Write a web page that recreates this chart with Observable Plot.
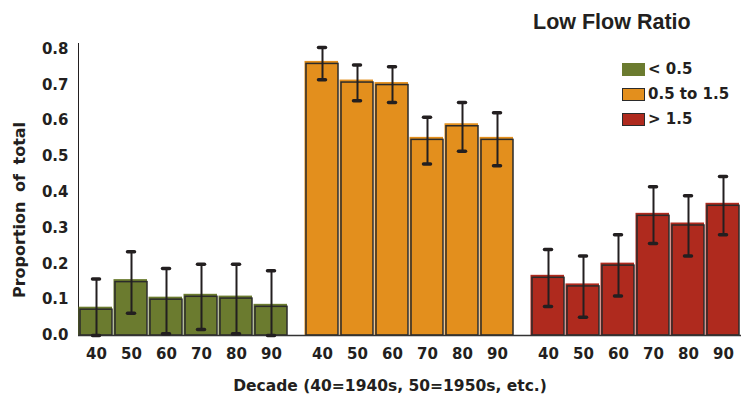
<!DOCTYPE html>
<html>
<head>
<meta charset="utf-8">
<script src="https://cdn.jsdelivr.net/npm/d3@7"></script>
<script src="https://cdn.jsdelivr.net/npm/@observablehq/plot@0.6"></script>
<style>
  html, body { margin: 0; padding: 0; background: #fff; overflow: hidden; }
  #wrap { position: relative; width: 741px; height: 394px; overflow: hidden; color: #231f20; }
  #wrap svg { position: absolute; left: 0; top: 0; max-width: none !important; }
  #wrap svg text { font-size: 15px; font-family: "DejaVu Sans", sans-serif; font-weight: bold; }
  .lbl { position: absolute; font-family: "DejaVu Sans", sans-serif; font-weight: bold; line-height: 1; white-space: nowrap; }
  #ltitle { position: absolute; left: 533px; top: 12px; font-family: "Liberation Sans", Arial, sans-serif; font-weight: bold; font-size: 21.5px; line-height: 1; white-space: nowrap; }
  #legend { position: absolute; left: 622px; top: 63px; }
  .row { display: flex; align-items: center; height: 13px; margin-bottom: 12px; }
  .sw { width: 23px; height: 13px; box-sizing: border-box; }
  .row span { font-family: "DejaVu Sans", sans-serif; font-weight: bold; font-size: 15px; line-height: 1; margin-left: 3px; white-space: nowrap; }
</style>
</head>
<body>
<div id="wrap"></div>
<script>
const groups = ["< 0.5", "0.5 to 1.5", "> 1.5"];
const colors = ["#6b7b2f", "#e38f1d", "#af2a1e"];
const decades = ["40", "50", "60", "70", "80", "90"];

const lowVals  = [0.072, 0.149, 0.100, 0.108, 0.103, 0.080];
const lowLo    = [0.000, 0.062, 0.005, 0.017, 0.005, 0.000];
const lowHi    = [0.158, 0.234, 0.187, 0.199, 0.199, 0.181];

const midVals  = [0.758, 0.706, 0.699, 0.546, 0.584, 0.546];
const midLo    = [0.714, 0.655, 0.650, 0.479, 0.514, 0.474];
const midHi    = [0.804, 0.755, 0.750, 0.609, 0.650, 0.622];

const highVals = [0.161, 0.137, 0.195, 0.334, 0.307, 0.362];
const highLo   = [0.081, 0.051, 0.110, 0.257, 0.222, 0.281];
const highHi   = [0.240, 0.222, 0.281, 0.415, 0.390, 0.444];

const legendTitle = "Low Flow Ratio";
const xTitle = "Decade (40=1940s, 50=1950s, etc.)";
const yTitle = "Proportion of total";

const series = [
  [lowVals, lowLo, lowHi],
  [midVals, midLo, midHi],
  [highVals, highLo, highHi]
];
const rows = [];
series.forEach(([v, lo, hi], gi) => {
  decades.forEach((d, i) => {
    rows.push({group: groups[gi], decade: d, value: v[i], lo: lo[i], hi: hi[i]});
  });
});

const ink = "#231f20";

const chart = Plot.plot({
  width: 756,
  height: 394,
  marginLeft: 78,
  marginRight: 0,
  marginTop: 43,
  marginBottom: 59,
  style: {fontFamily: "DejaVu Sans, sans-serif", fontWeight: "bold", fontSize: "15px", color: ink, background: "transparent", maxWidth: "none"},
  facet: {data: rows, x: "group"},
  fx: {domain: groups, padding: 0, axis: null, label: null},
  x: {domain: decades, paddingInner: 0.1, paddingOuter: 0.225, align: 0.125, tickSize: 0, tickPadding: 13, label: null},
  y: {domain: [0, 0.815], ticks: 8, tickFormat: d3.format(".1f"), tickSize: 0, tickPadding: 10, line: true, label: null},
  color: {domain: groups, range: colors},
  marks: [
    Plot.barY(rows, {x: "decade", y: "value", fill: "group", insetLeft: -1.5, insetTop: -2.5}),
    Plot.barY(rows, {x: "decade", y: "value", fill: "none", stroke: "#2b2b2b", strokeWidth: 1.5}),
    Plot.ruleY([0], {stroke: "#333", strokeWidth: 1.5}),
    Plot.ruleX(rows, {x: "decade", y1: "lo", y2: "hi", stroke: ink, strokeWidth: 2}),
    Plot.tickY(rows, {x: "decade", y: "hi", stroke: ink, strokeWidth: 3.5, strokeLinecap: "round", insetLeft: 12.5, insetRight: 12.5}),
    Plot.tickY(rows, {x: "decade", y: "lo", stroke: ink, strokeWidth: 3.5, strokeLinecap: "round", insetLeft: 12.5, insetRight: 12.5})
  ]
});

const wrap = document.getElementById("wrap");
wrap.appendChild(chart);

const t = document.createElement("div");
t.id = "ltitle"; t.textContent = legendTitle; wrap.appendChild(t);

const leg = document.createElement("div");
leg.id = "legend";
groups.forEach((g, i) => {
  const r = document.createElement("div"); r.className = "row";
  const s = document.createElement("div"); s.className = "sw";
  s.style.background = colors[i];
  if (i > 0) s.style.border = "1.5px solid #2b2b2b";
  const l = document.createElement("span"); l.textContent = g;
  r.appendChild(s); r.appendChild(l); leg.appendChild(r);
});
wrap.appendChild(leg);

const xt = document.createElement("div");
xt.className = "lbl"; xt.textContent = xTitle;
xt.style.fontSize = "15.5px"; xt.style.left = "390px"; xt.style.top = "379px";
xt.style.transform = "translateX(-50%)";
wrap.appendChild(xt);

const yt = document.createElement("div");
yt.className = "lbl"; yt.textContent = yTitle;
yt.style.fontSize = "16px"; yt.style.wordSpacing = "4px";
yt.style.left = "20px"; yt.style.top = "210px";
yt.style.transform = "translate(-50%, -50%) rotate(-90deg)";
wrap.appendChild(yt);
</script>
</body>
</html>
